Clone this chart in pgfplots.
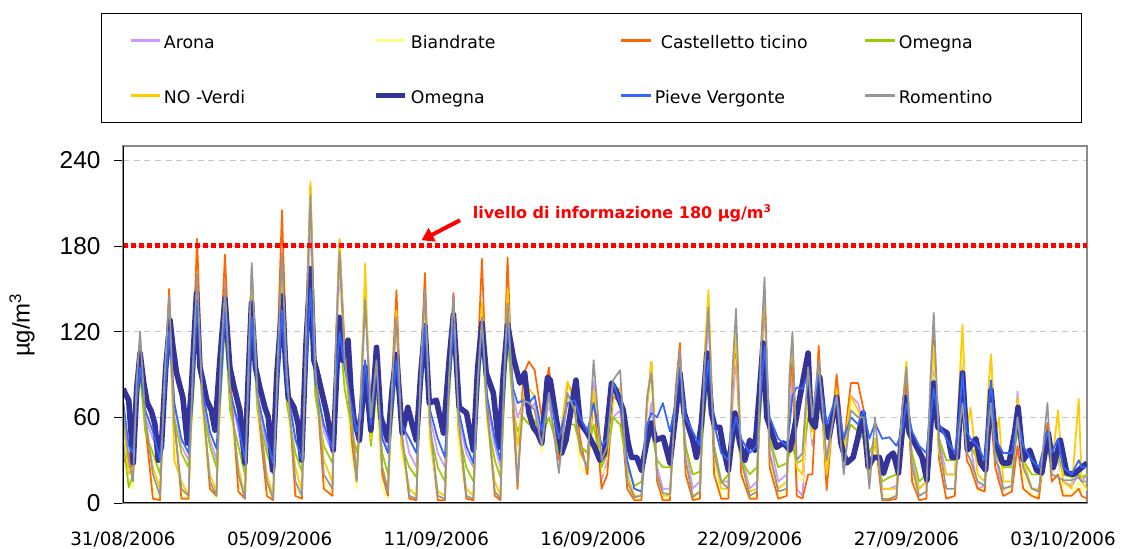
\documentclass[border=0pt]{standalone}
\usepackage{fontspec}
\setmainfont{DejaVu Sans}
\newfontfamily\libsans{Liberation Sans}
\usepackage{pgfplots}
\pgfplotsset{compat=1.18}
\usepackage{pgfplotstable}
\usetikzlibrary{arrows.meta}
\definecolor{cAr}{RGB}{204,153,255}
\definecolor{cBi}{RGB}{255,255,140}
\definecolor{cCa}{RGB}{255,102,0}
\definecolor{cOg}{RGB}{153,204,0}
\definecolor{cNv}{RGB}{255,204,0}
\definecolor{cOb}{RGB}{51,51,153}
\definecolor{cPv}{RGB}{51,102,255}
\definecolor{cRo}{RGB}{150,150,150}
\pgfplotstableread{
d ar bi ca og nv pv ro
0.0 51 40 28 45 65 72 67
0.2 35 15 35 11 20 40 30
0.35 30 10 20 20 25 35 15
0.48 70 70 75 60 80 70 85
0.6 100 110 114 90 115 95 120
0.78 60 50 55 50 60 65 60
1.05 45 10 3 35 25 50 20
1.3 35 3 2 20 10 30 5
1.45 80 70 80 65 75 70 85
1.62 140 135 150 120 140 120 145
1.8 70 40 60 60 30 70 55
2.05 40 8 3 35 15 45 10
2.3 30 2 3 25 5 35 5
2.45 90 85 100 70 85 80 95
2.6 160 150 185 130 150 140 160
2.78 75 60 80 70 70 80 75
3.05 45 10 10 40 20 50 15
3.28 30 3 5 25 8 38 5
3.43 95 80 110 75 85 80 100
3.58 155 140 174 125 145 135 150
3.76 80 65 90 65 75 78 80
4.05 50 12 8 40 25 55 20
4.28 25 3 3 20 5 30 3
4.42 95 90 100 75 95 85 110
4.52 150 150 163 130 160 130 168
4.72 75 60 70 65 70 75 75
5.05 40 10 5 35 20 45 15
5.27 25 2 2 20 5 28 3
5.43 90 85 110 75 90 85 100
5.58 170 170 205 135 165 135 175
5.75 85 70 95 70 80 80 90
6.05 45 10 5 35 25 45 15
6.28 30 3 3 22 8 30 5
6.43 110 110 130 85 120 95 125
6.58 200 220 222 150 225 150 215
6.75 90 80 95 75 100 85 95
7.05 50 15 10 40 30 55 20
7.35 35 8 5 28 15 38 10
7.47 100 100 110 80 110 85 110
7.6 165 175 184 120 185 120 176
7.78 100 90 110 80 100 95 100
8.05 60 30 40 50 55 65 55
8.2 50 10 16 35 20 50 15
8.35 70 60 80 55 70 60 75
8.5 140 160 150 95 168 100 142
8.7 70 40 60 40 45 55 60
8.9 90 70 95 80 90 95 100
9.1 50 10 20 35 25 45 25
9.3 35 3 5 20 10 35 8
9.45 80 80 90 60 80 70 85
9.6 125 130 149 95 135 100 130
9.78 60 35 50 40 40 55 50
10.05 35 5 3 25 10 45 5
10.3 25 2 2 18 5 35 3
10.45 85 85 95 70 90 80 95
10.6 135 140 161 110 145 125 149
10.78 60 40 50 50 45 65 55
11.05 35 5 2 25 8 45 5
11.3 25 2 2 15 5 32 3
11.45 90 85 90 75 85 85 90
11.6 145 140 147 120 140 125 145
11.78 60 40 55 50 50 65 60
12.05 35 5 3 25 10 40 5
12.3 25 2 2 15 5 28 3
12.45 85 80 100 70 85 80 85
12.6 135 135 171 115 140 125 130
12.78 70 55 70 60 60 75 65
13.05 40 8 5 30 15 45 8
13.25 25 2 2 18 5 30 3
13.38 80 80 100 70 85 80 90
13.5 140 145 172 115 150 125 140
13.7 75 60 60 65 70 80 70
13.85 60 30 10 50 40 70 14
14.05 70 60 90 60 75 72 72
14.25 65 55 99 55 80 70 70
14.45 70 65 93 58 75 75 65
14.7 45 35 60 45 50 50 40
14.95 70 75 95 60 85 77 77
15.3 30 30 30 35 40 45 21
15.6 70 75 84 55 85 70 77
15.85 60 60 75 55 70 72 65
16.05 40 25 45 40 35 60 37
16.3 35 20 20 35 25 50 25
16.52 85 70 75 55 79 70 100
16.8 16 20 10 25 30 40 30
17.0 30 25 20 35 35 45 40
17.2 60 70 75 60 75 85 86
17.45 65 70 70 55 81 70 93
17.7 20 15 10 25 20 30 15
17.95 5 3 2 12 5 10 4
18.2 5 3 2 15 5 8 5
18.4 50 60 70 40 70 55 75
18.55 70 90 99 50 99 63 91
18.75 25 20 15 30 20 60 20
18.95 10 3 2 25 5 70 7
19.2 10 3 2 25 5 50 6
19.4 60 70 80 55 75 70 75
19.55 95 100 112 80 105 95 107
19.75 40 25 20 40 30 60 30
20.0 10 3 2 20 5 50 4
20.25 15 5 3 22 8 40 8
20.4 80 90 90 60 100 75 90
20.55 130 140 140 90 149 100 137
20.75 40 30 20 40 35 55 35
21.0 15 5 3 14 10 35 15
21.25 15 5 3 20 10 30 10
21.4 70 80 80 40 85 50 95
21.52 100 110 116 50 119 60 136
21.7 35 25 20 30 30 45 30
22.0 10 3 3 20 8 35 5
22.25 15 5 3 25 10 40 8
22.4 90 100 100 70 110 80 110
22.52 140 145 147 100 149 110 158
22.7 45 30 25 45 35 60 35
23.0 15 5 3 25 10 45 8
23.3 20 8 5 28 15 40 10
23.4 60 80 80 35 90 55 90
23.5 90 105 100 40 116 75 120
23.65 10 20 5 28 25 81 30
23.85 5 15 3 30 20 80 35
24.05 70 70 20 60 85 90 95
24.2 40 45 20 50 50 60 60
24.42 90 90 110 70 95 90 100
24.7 30 25 9 45 20 55 30
25.05 85 75 90 65 80 75 75
25.3 40 30 40 40 35 45 20
25.55 75 70 84 55 75 60 65
25.8 70 60 84 50 65 55 60
26.0 55 50 65 45 55 65 60
26.2 25 20 20 35 20 45 10
26.4 45 40 45 45 45 56 60
26.65 10 5 2 15 10 45 3
26.9 10 5 2 18 10 46 3
27.15 12 5 3 20 10 40 5
27.35 50 60 60 40 65 50 65
27.5 80 90 86 60 99 70 95
27.7 30 20 15 35 25 50 25
27.95 10 5 2 15 10 40 5
28.2 15 8 3 20 15 35 8
28.35 70 80 80 60 80 60 90
28.46 100 105 119 86 110 80 133
28.65 45 30 30 45 35 55 40
28.9 20 10 3 30 20 45 10
29.2 20 10 5 30 20 35 10
29.35 60 80 60 50 80 60 50
29.47 100 110 80 75 125 91 70
29.62 50 40 30 45 50 50 35
29.75 40 30 25 40 67 45 30
30.0 10 8 10 30 20 40 15
30.25 12 10 8 25 15 30 12
30.36 70 80 45 45 75 60 50
30.47 104 95 60 60 104 86 70
30.62 40 35 25 35 45 45 30
30.75 20 30 15 30 60 40 25
30.9 9 10 5 25 15 35 10
31.2 12 10 8 25 15 35 12
31.4 78 70 40 50 74 60 60
31.6 30 20 10 30 30 40 25
31.9 10 5 5 20 10 30 10
32.15 10 5 3 20 10 25 8
32.45 45 40 56 40 45 50 70
32.6 20 20 15 25 25 35 20
32.82 30 40 20 35 65 45 18
33.0 15 8 5 20 15 25 16
33.3 12 5 5 18 10 20 16
33.55 20 15 10 20 73 30 18
33.65 15 8 5 18 15 25 15
33.84 20 10 3 20 10 25 15
}\others
\pgfplotstableread{
d v
0.0 80
0.1 76
0.2 72
0.36 28
0.48 80
0.6 105
0.72 85
0.85 70
1.0 64
1.12 55
1.24 30
1.35 40
1.5 95
1.65 128
1.75 110
1.88 91
2.1 74
2.26 42
2.4 80
2.58 147
2.7 95
2.8 86
2.94 72
3.1 65
3.23 51
3.4 100
3.58 143
3.75 95
3.9 81
4.1 65
4.28 28
4.4 90
4.51 140
4.65 95
4.8 81
4.98 67
5.1 60
5.25 23
5.4 90
5.6 145
5.7 100
5.8 74
6.0 67
6.15 55
6.27 30
6.42 110
6.58 164
6.7 100
6.8 93
7.15 63
7.38 37
7.5 90
7.59 130
7.7 100
7.9 114
8.0 80
8.1 60
8.3 44
8.5 95
8.7 51
8.9 109
9.05 60
9.3 44
9.45 80
9.6 104
9.8 49
10.0 67
10.2 51
10.3 44
10.45 90
10.6 124
10.75 70
11.0 72
11.25 49
11.45 100
11.6 132
11.8 67
12.06 63
12.3 37
12.45 95
12.6 126
12.75 91
13.0 77
13.2 39
13.35 90
13.5 125
13.7 102
13.93 84
14.1 91
14.25 63
14.4 53
14.55 49
14.7 42
14.9 88
15.0 86
15.2 60
15.4 35
15.55 44
15.9 86
16.05 56
16.3 49
16.56 39
16.74 30
16.9 35
17.15 84
17.3 79
17.56 65
17.73 42
17.85 32
18.03 32
18.2 23
18.38 42
18.55 56
18.7 44
18.96 46
19.2 28
19.43 67
19.55 91
19.7 63
20.0 44
20.13 32
20.3 55
20.5 105
20.66 63
20.78 53
20.95 53
21.07 39
21.25 23
21.48 63
21.65 42
21.83 30
22.0 44
22.18 37
22.35 80
22.47 112
22.6 60
22.94 39
23.18 42
23.41 37
23.55 50
23.76 74
24.05 105
24.15 58
24.3 53
24.46 88
24.6 60
24.78 46
25.05 74
25.2 42
25.4 28
25.63 32
25.8 46
25.98 63
26.16 25
26.35 32
26.55 32
26.7 21
26.87 32
27.04 35
27.22 21
27.46 74
27.6 49
27.87 39
28.05 32
28.22 16
28.46 84
28.6 53
28.93 49
29.1 32
29.29 32
29.47 91
29.64 37
29.94 45
30.1 28
30.28 23
30.47 79
30.64 42
30.88 28
31.1 28
31.3 49
31.42 67
31.6 30
31.83 37
32.07 23
32.25 21
32.48 49
32.66 25
32.9 44
33.13 21
33.37 20
33.66 25
33.84 28
}\boldom
\begin{document}
\begin{tikzpicture}
\useasboundingbox (0,0) rectangle (842.25pt,411.75pt);
\begin{axis}[
  at={(92.25pt,34.5pt)}, anchor=south west,
  width=723pt, height=267.75pt, scale only axis,
  xmin=0, xmax=33.84, ymin=0, ymax=250,
  xtick={0,5.5,11,16.5,22,27.5,33},
  xticklabels={31/08/2006,05/09/2006,11/09/2006,16/09/2006,22/09/2006,27/09/2006,03/10/2006},
  ytick={0,60,120,180,240},
  /pgf/number format/assume math mode=true,
  xtick style={draw=none},
  ytick pos=left,
  tick align=outside,
  major tick length=6.75pt,
  ytick style={draw=black, line width=0.6pt},
  xticklabel style={font=\fontsize{13.7}{14}\selectfont, anchor=center, yshift=-21pt},
  yticklabel style={font=\libsans\fontsize{18.3}{18}\selectfont, anchor=east, inner sep=0pt, xshift=-10pt},
  ylabel={µg/m\textsuperscript{3}},
  ylabel style={font=\libsans\fontsize{18}{18}\selectfont, at={(rel axis cs:-0.1048,0.4986)}, anchor=center},
  ymajorgrids,
  grid style={dash pattern=on 4.5pt off 3.5pt, color=gray!45, line width=0.6pt},
  axis line style={draw=gray!90, line width=0.8pt},
  every axis plot/.append style={line join=round},
  legend columns=4,
  legend cell align=left,
  legend image code/.code={\draw[#1] (0pt,0pt) -- (22pt,0pt);},
  legend style={at={(rel axis cs:-0.02282,1.37255)}, anchor=north west, draw=black, line width=0.6pt,
    inner xsep=21pt, inner ysep=10pt, row sep=20.75pt,
    font=\fontsize{13}{13}\selectfont,
    nodes={inner sep=0pt, text height=16.5pt, text depth=4pt}},
]
\addplot[cAr, line width=1.3pt, forget plot] table[x=d, y=ar] {\others};
\addplot[cBi, line width=1.3pt, forget plot] table[x=d, y=bi] {\others};
\addplot[cCa, line width=1.3pt, forget plot] table[x=d, y=ca] {\others};
\addplot[cOg, line width=1.3pt, forget plot] table[x=d, y=og] {\others};
\addplot[cNv, line width=1.3pt, forget plot] table[x=d, y=nv] {\others};
\addplot[cOb, line width=4.2pt, forget plot] table[x=d, y=v] {\boldom};
\addplot[cPv, line width=1.3pt, forget plot] table[x=d, y=pv] {\others};
\addplot[cRo, line width=1.3pt, forget plot] table[x=d, y=ro] {\others};
\addlegendimage{cAr, line width=1.7pt}
\addlegendentry{\makebox[159.25pt][l]{\hspace{2.25pt}Arona}}
\addlegendimage{cBi, line width=1.7pt}
\addlegendentry{\makebox[159.25pt][l]{\hspace{2.25pt}Biandrate}}
\addlegendimage{cCa, line width=1.7pt}
\addlegendentry{\makebox[159.25pt][l]{\hspace{6.75pt}Castelletto ticino}}
\addlegendimage{cOg, line width=1.7pt}
\addlegendentry{\makebox[118.25pt][l]{\hspace{2.25pt}Omegna}}
\addlegendimage{cNv, line width=1.7pt}
\addlegendentry{\makebox[159.25pt][l]{\hspace{2.25pt}NO -Verdi}}
\addlegendimage{cOb, line width=4pt}
\addlegendentry{\makebox[159.25pt][l]{\hspace{2.25pt}Omegna}}
\addlegendimage{cPv, line width=1.7pt}
\addlegendentry{\makebox[159.25pt][l]{\hspace{2.25pt}Pieve Vergonte}}
\addlegendimage{cRo, line width=1.7pt}
\addlegendentry{\makebox[118.25pt][l]{\hspace{2.25pt}Romentino}}
\addplot[red, line width=3.75pt, dash pattern=on 3.75pt off 2.25pt, forget plot] coordinates {(0,180) (33.84,180)};
\draw[red, line width=3pt, -{Triangle[length=9pt, width=11pt]}] (axis cs:11.83,198) -- (axis cs:10.48,184);
\node[anchor=west, text=red, font=\bfseries\fontsize{12}{12}\selectfont, inner sep=0pt] at (axis cs:12.27,203) {livello di informazione 180 µg/m\textsuperscript{3}};
\draw[black, line width=0.8pt] (rel axis cs:0,1) -- (rel axis cs:0,0) -- (rel axis cs:1,0);
\end{axis}
\end{tikzpicture}
\end{document}
